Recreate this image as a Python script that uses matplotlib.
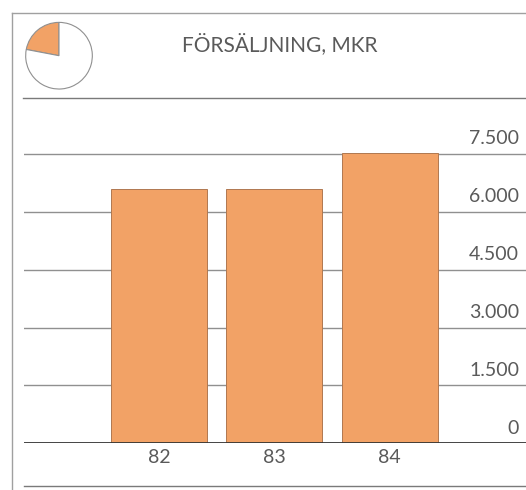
import matplotlib
matplotlib.use("Agg")
import matplotlib.pyplot as plt
from matplotlib.lines import Line2D

# sales per year, MSEK
years = ["82", "83", "84"]
sales = [6590, 6600, 7520]
tick_values = [0, 1500, 3000, 4500, 6000, 7500]
tick_labels = ["0", "1.500", "3.000", "4.500", "6.000", "7.500"]
pie_share = [22, 78]
title = "FÖRSÄLJNING, MKR"

W, H = 526, 490
bar_color = "#F2A266"
text_color = "#5a5a5a"
line_color = "#909090"

plt.rcParams["font.family"] = ["Lato", "DejaVu Sans"]

fig = plt.figure(figsize=(W / 100, H / 100), dpi=100)
fig.patch.set_facecolor("white")


def px(x, y):
    # pixel position -> figure fraction
    return x / W, 1 - y / H


def hline(y, x0, x1, **kw):
    (a, b), (c, _) = px(x0, y), px(x1, y)
    fig.add_artist(Line2D([a, c], [b, b], **kw))


# frame around the panel
fx, fy = px(12, 13)
fig.add_artist(Line2D([fx, fx], [fy, 0], color="#a0a0a0", lw=1.0))
hline(13, 12, W, color="#a0a0a0", lw=1.0)
hline(98, 23, W, color="#7a7a7a", lw=1.0)
hline(486, 24, W, color="#7a7a7a", lw=1.0)

# small pie in the header
r = 34
cx, cy = 59, 55.7
l, b = px(cx - r, cy + r)
pax = fig.add_axes([l, b, 2 * r / W, 2 * r / H])
pax.pie(pie_share, colors=[bar_color, "white"], startangle=90,
        counterclock=True, radius=0.98,
        wedgeprops=dict(edgecolor="#909090", linewidth=0.8))
pax.set_xlim(-1, 1)
pax.set_ylim(-1, 1)
pax.set_aspect("equal")
pax.axis("off")

fig.text(280 / W, 1 - 44 / H, title, ha="center", va="center",
         fontsize=15, color=text_color)

# main bar chart
zero_px, top_px = 443.3, 154.0
per_unit = (zero_px - top_px) / 7500
ymax = 8000
ax_top = zero_px - ymax * per_unit
l, b = px(24, zero_px)
ax = fig.add_axes([l, b, 1 - l, (zero_px - ax_top) / H])

step = 115.25
c0 = 159
xs = list(range(len(years)))
ax.bar(xs, sales, width=96 / step, color=bar_color,
       edgecolor="#b07850", linewidth=0.7, zorder=3)

ax.set_xlim((24 - c0) / step, (W - c0) / step)
ax.set_ylim(0, ymax)

for v, lab in zip(tick_values, tick_labels):
    if v == 0:
        ax.axhline(v, color="#333333", lw=2.0, zorder=4)
    else:
        ax.axhline(v, color=line_color, lw=1.0, zorder=1)
    ax.text((519 - c0) / step, v + 170, lab, ha="right", va="bottom",
            fontsize=14, color=text_color)

ax.set_xticks(xs)
ax.set_xticklabels(years, fontsize=14, color=text_color)
ax.tick_params(axis="x", length=0, pad=4)
ax.set_yticks([])
for s in ax.spines.values():
    s.set_visible(False)
ax.patch.set_alpha(0)

fig.savefig("out.png", dpi=100)
